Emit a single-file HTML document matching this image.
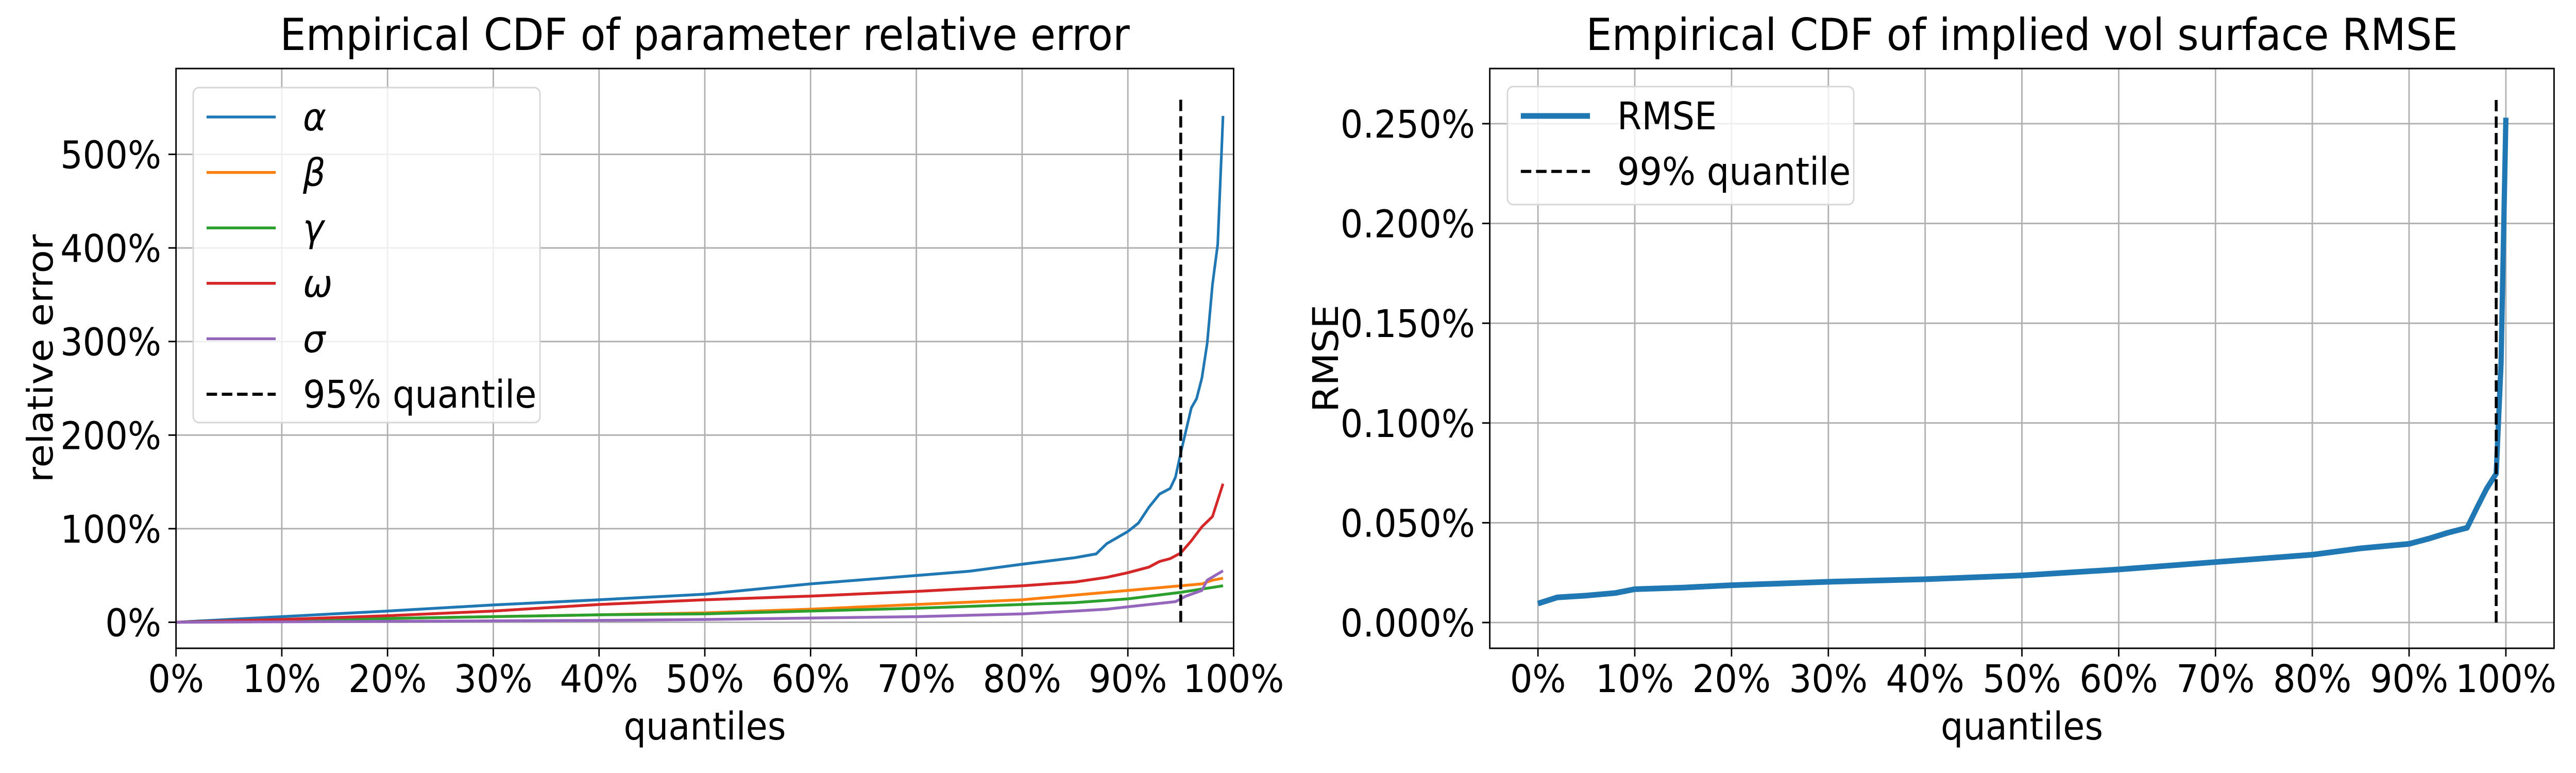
<!DOCTYPE html>
<html><head><meta charset="utf-8"><style>
html,body{margin:0;padding:0;background:#fff;overflow:hidden;width:100%;height:100%;}
svg{display:block;position:fixed;left:0;top:0;width:100vw;height:100vh;font-family:"DejaVu Sans","Liberation Sans",sans-serif;}
</style></head><body>
<svg id="fig" viewBox="0 0 5400 1500" preserveAspectRatio="none" xmlns="http://www.w3.org/2000/svg"></svg>
<script>
// ---- Left chart data ----
const quantAlpha = [0,0.1,0.2,0.3,0.4,0.5,0.6,0.7,0.75,0.8,0.85,0.87,0.88,0.9,0.91,0.92,0.93,0.94,0.945,0.95,0.96,0.965,0.97,0.975,0.98,0.985,0.99];
const alphaVals = [0,0.06,0.12,0.185,0.24,0.30,0.41,0.50,0.545,0.62,0.69,0.73,0.84,0.97,1.06,1.23,1.37,1.43,1.55,1.81,2.29,2.39,2.61,2.98,3.61,4.04,5.41];
const quantOmega = [0,0.1,0.2,0.3,0.35,0.4,0.5,0.6,0.7,0.8,0.85,0.88,0.9,0.92,0.93,0.94,0.95,0.96,0.97,0.98,0.99];
const omegaVals = [0,0.03,0.07,0.12,0.155,0.19,0.24,0.28,0.33,0.39,0.43,0.48,0.53,0.59,0.65,0.68,0.74,0.87,1.02,1.13,1.48];
const quantBeta = [0,0.1,0.2,0.3,0.4,0.5,0.6,0.7,0.8,0.85,0.9,0.95,0.97,0.98,0.99];
const betaVals = [0,0.02,0.04,0.06,0.08,0.10,0.14,0.19,0.24,0.29,0.34,0.39,0.41,0.45,0.47];
const quantGamma = [0,0.1,0.2,0.3,0.4,0.5,0.6,0.7,0.8,0.85,0.9,0.95,0.99];
const gammaVals = [0,0.02,0.04,0.06,0.08,0.09,0.12,0.15,0.19,0.21,0.25,0.32,0.39];
const quantSigma = [0,0.1,0.2,0.3,0.4,0.5,0.6,0.7,0.8,0.85,0.88,0.9,0.945,0.955,0.97,0.975,0.99];
const sigmaVals = [0,0.005,0.01,0.015,0.02,0.03,0.045,0.06,0.09,0.12,0.14,0.165,0.22,0.28,0.34,0.45,0.55];
const leftQuantileLine = 0.95;
const leftQuantileTop = 5.6;
const leftYTicks = [0,1,2,3,4,5];
const leftYTickLabels = ["0%","100%","200%","300%","400%","500%"];
const xTicks = [0,0.1,0.2,0.3,0.4,0.5,0.6,0.7,0.8,0.9,1.0];
const xTickLabels = ["0%","10%","20%","30%","40%","50%","60%","70%","80%","90%","100%"];
// ---- Right chart data (values in %) ----
const quantRmse = [0,0.02,0.05,0.08,0.1,0.15,0.2,0.3,0.4,0.5,0.6,0.7,0.8,0.85,0.9,0.92,0.94,0.96,0.97,0.98,0.99,0.995,1.0];
const rmseVals = [0.0095,0.0126,0.0135,0.0148,0.0167,0.0175,0.0187,0.0204,0.0217,0.0236,0.0266,0.0303,0.034,0.0372,0.0394,0.042,0.045,0.0475,0.0574,0.067,0.0746,0.13,0.253];
const rightQuantileLine = 0.99;
const rightQuantileTop = 0.262;
const rightYTicks = [0,0.05,0.1,0.15,0.2,0.25];
const rightYTickLabels = ["0.000%","0.050%","0.100%","0.150%","0.200%","0.250%"];

const NS="http://www.w3.org/2000/svg";
const svg=document.getElementById('fig');
function mk(tag,attrs,parent){const e=document.createElementNS(NS,tag);for(const k in attrs)e.setAttribute(k,attrs[k]);(parent||svg).appendChild(e);return e;}

function drawAxes(cfg){
  const g=mk('g',{});
  
  
  const X=v=>cfg.x0+(v-cfg.xmin)/(cfg.xmax-cfg.xmin)*(cfg.x1-cfg.x0);
  const Y=v=>cfg.yz-v*cfg.ys;
  cfg.xticks.forEach((t,i)=>{
    const gl=mk('line',{x1:X(t),x2:X(t),y1:cfg.top,y2:cfg.bot,stroke:'#b0b0b0','stroke-width':3},g);
    
    
    const tk=mk('line',{x1:X(t),x2:X(t),y1:cfg.bot,y2:cfg.bot+16,stroke:'#000','stroke-width':3},g);
    
    
    const tl=mk('text',{x:X(t),y:1343,'font-size':74,'text-anchor':'middle'},g);
    tl.textContent=cfg.xlabels[i];
    
    
  });
  cfg.yticks.forEach((t,i)=>{
    const gl=mk('line',{x1:cfg.L,x2:cfg.R,y1:Y(t),y2:Y(t),stroke:'#b0b0b0','stroke-width':3},g);
    
    
    const tk=mk('line',{x1:cfg.L-16,x2:cfg.L,y1:Y(t),y2:Y(t),stroke:'#000','stroke-width':3},g);
    
    
    const tl=mk('text',{x:cfg.L-31,y:Y(t)+27,'font-size':74,'text-anchor':'end'},g);
    tl.textContent=cfg.ylabels[i];
    
    
  });
  cfg.series.forEach(s=>{
    const d=s.q.map((q,i)=>(i?'L':'M')+X(q).toFixed(1)+' '+Y(s.v[i]).toFixed(1)).join(' ');
    const p=mk('path',{d:d,fill:'none',stroke:s.color,'stroke-width':s.w,'stroke-linejoin':'round'},g);
    
    
  });
  const vl=mk('line',{x1:X(cfg.vq),x2:X(cfg.vq),y1:Y(0),y2:Y(cfg.vtop),stroke:'#000','stroke-width':6,'stroke-dasharray':'22 10'},g);
  
  
  const sp=mk('rect',{x:cfg.L,y:cfg.top,width:cfg.R-cfg.L,height:cfg.bot-cfg.top,fill:'none',stroke:'#000','stroke-width':3},g);
  
  
  const ti=mk('text',{x:(cfg.L+cfg.R)/2,y:97,'font-size':86,'text-anchor':'middle'},g);
  ti.textContent=cfg.title;
  
  
  const xl=mk('text',{x:(cfg.L+cfg.R)/2,y:1435,'font-size':74,'text-anchor':'middle'},g);
  xl.textContent='quantiles';
  
  
  const yl=mk('text',{x:0,y:0,'font-size':74,'text-anchor':'middle',transform:`translate(${cfg.ylx},${(cfg.top+cfg.bot)/2}) rotate(-90)`},g);
  yl.textContent=cfg.ylabel;
  
  
  const lg=mk('g',{},g);
  
  
  mk('rect',{x:cfg.lgx,y:cfg.lgy,width:cfg.lgw,height:cfg.lgh,rx:12,fill:'#fff','fill-opacity':0.8,stroke:'#d6d6d6','stroke-width':3},lg);
  cfg.legend.forEach((e,i)=>{
    const cy=cfg.lgy+57+i*107.6;
    const h=mk('line',{x1:cfg.lgx+28,x2:cfg.lgx+173,y1:cy,y2:cy,stroke:e.color,'stroke-width':e.w,'stroke-dasharray':e.dash||'none'},lg);
    
    
    const t=mk('text',{x:cfg.lgx+230,y:cy+26,'font-size':74,'font-style':e.italic?'italic':'normal'},lg);
    t.textContent=e.label;
    
    
  });
}

drawAxes({name:'parameter-error-chart',L:369,R:2586,top:133,bot:1258,x0:369,x1:2586,xmin:0,xmax:1,
  yz:1207.5,ys:181.6,xticks:xTicks,xlabels:xTickLabels,yticks:leftYTicks,ylabels:leftYTickLabels,
  title:'Empirical CDF of parameter relative error',ylabel:'relative error',ylx:110,
  vq:leftQuantileLine,vtop:leftQuantileTop,
  series:[
    {name:'alpha-line',q:quantAlpha,v:alphaVals,color:'#1f77b4',w:5.5},
    {name:'beta-line',q:quantBeta,v:betaVals,color:'#ff7f0e',w:5.5},
    {name:'gamma-line',q:quantGamma,v:gammaVals,color:'#2ca02c',w:5.5},
    {name:'omega-line',q:quantOmega,v:omegaVals,color:'#d62728',w:5.5},
    {name:'sigma-line',q:quantSigma,v:sigmaVals,color:'#9467bd',w:5.5}],
  lgx:405,lgy:170,lgw:727,lgh:650,
  legend:[{label:'α',color:'#1f77b4',w:5.5,italic:1},{label:'β',color:'#ff7f0e',w:5.5,italic:1},{label:'γ',color:'#2ca02c',w:5.5,italic:1},
    {label:'ω',color:'#d62728',w:5.5,italic:1},{label:'σ',color:'#9467bd',w:5.5,italic:1},{label:'95% quantile',color:'#000',w:6,dash:'22 10'}]
});

drawAxes({name:'rmse-chart',L:3123,R:5354,top:133,bot:1258,x0:3224,x1:5253,xmin:0,xmax:1,
  yz:1208,ys:3872,xticks:xTicks,xlabels:xTickLabels,yticks:rightYTicks,ylabels:rightYTickLabels,
  title:'Empirical CDF of implied vol surface RMSE',ylabel:'RMSE',ylx:2805,
  vq:rightQuantileLine,vtop:rightQuantileTop,
  series:[{name:'rmse-line',q:quantRmse,v:rmseVals,color:'#1f77b4',w:11}],
  lgx:3160,lgy:168,lgw:726,lgh:229,
  legend:[{label:'RMSE',color:'#1f77b4',w:11},{label:'99% quantile',color:'#000',w:6,dash:'22 10'}]
});
</script>
</body></html>
